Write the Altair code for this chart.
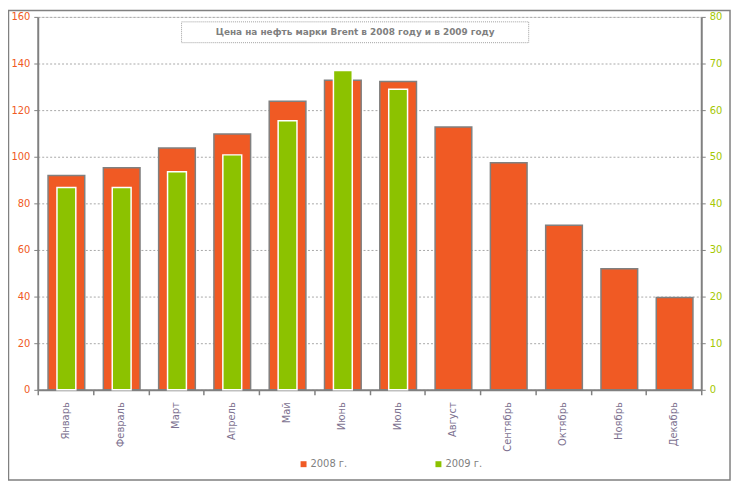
import altair as alt
import pandas as pd

months = ["Январь", "Февраль", "Март", "Апрель", "Май", "Июнь", "Июль",
          "Август", "Сентябрь", "Октябрь", "Ноябрь", "Декабрь"]
price_2008 = [92, 95.3, 103.8, 109.8, 123.8, 132.8, 132.3, 112.8, 97.4, 70.6, 51.9, 39.6]
price_2009 = [43.4, 43.4, 46.8, 50.4, 57.7, 68.5, 64.5]
series = ["2008 г.", "2009 г."]
title_text = "Цена на нефть марки Brent в 2008  году и в 2009 году"

ORANGE = "#f05a24"
GREEN = "#8cc200"
GREY = "#808080"
FONT = "DejaVu Sans"

df08 = pd.DataFrame({"Месяц": months, "Цена": price_2008, "Год": series[0]})
df09 = pd.DataFrame({"Месяц": months[:len(price_2009)], "Цена": price_2009, "Год": series[1]})

W, H = 669, 376

x_scale = alt.Scale(domain=months, paddingInner=0, paddingOuter=0)

x_enc = alt.X("Месяц:N", sort=months, scale=x_scale,
              axis=alt.Axis(title=None, labelAngle=270, labelColor="#7d7290",
                            labelFontSize=10, labelFont=FONT, tickBand="extent",
                            domainColor=GREY, domainWidth=2, tickColor=GREY,
                            tickSize=5, tickWidth=1.5, labelPadding=7,
                            labelBaseline="middle", labelAlign="right"))

color_enc = alt.Color("Год:N", scale=alt.Scale(domain=series, range=[ORANGE, GREEN]),
                      legend=alt.Legend(title=None, orient="none", legendX=263, legendY=446,
                                        direction="horizontal", symbolType="square",
                                        symbolSize=36, symbolStrokeWidth=0,
                                        labelColor=GREY, labelFontSize=10, labelFont=FONT,
                                        columnPadding=86, labelOffset=2))

bars08 = alt.Chart(df08).mark_bar(size=37, stroke=GREY, strokeWidth=1.5, xOffset=1).encode(
    x=x_enc,
    y=alt.Y("Цена:Q", scale=alt.Scale(domain=[0, 160], nice=False),
            axis=alt.Axis(title=None, orient="left", values=list(range(0, 161, 20)),
                          labelColor=ORANGE, labelFontSize=10, labelFont=FONT,
                          domainColor=GREY, domainWidth=2, tickColor=GREY, tickSize=4,
                          grid=True, gridColor="#a8a8a8", gridDash=[2, 2], gridWidth=1,
                          labelPadding=4)),
    color=color_enc,
)

bars09 = alt.Chart(df09).mark_bar(size=19, stroke="white", strokeWidth=1.5, xOffset=1).encode(
    x=alt.X("Месяц:N", sort=months, scale=x_scale),
    y=alt.Y("Цена:Q", scale=alt.Scale(domain=[0, 80], nice=False),
            axis=alt.Axis(title=None, orient="right", values=list(range(0, 81, 10)),
                          labelColor="#a4c800", labelFontSize=10, labelFont=FONT,
                          domainColor=GREY, domainWidth=2, tickColor=GREY, tickSize=4,
                          grid=False, labelPadding=4)),
    color=color_enc,
)

title_box = alt.Chart(pd.DataFrame({"t": [title_text]})).mark_rect(
    fill="white", stroke="#a0a0a0", strokeDash=[1, 1], strokeWidth=1
).encode(x=alt.value(145), x2=alt.value(495), y=alt.value(5), y2=alt.value(26))

title_lbl = alt.Chart(pd.DataFrame({"t": [title_text]})).mark_text(
    font=FONT, fontSize=9, fontWeight="bold", color="#7f7f7f", align="center", baseline="middle"
).encode(x=alt.value(320), y=alt.value(15.5), text="t:N")

border = alt.Chart(pd.DataFrame({"t": [0]})).mark_rect(
    fill=None, stroke=GREY, strokeWidth=1.5, filled=False
).encode(x=alt.value(-29.5), x2=alt.value(698), y=alt.value(-6.5), y2=alt.value(467))

chart = alt.layer(border, bars08, bars09, title_box, title_lbl).resolve_scale(
    y="independent"
).properties(
    width=W, height=H,
    autosize=alt.AutoSizeParams(type="none"),
    padding={"left": 30, "top": 7, "right": 31, "bottom": 93},
).configure_view(stroke=None).configure(background="white")

chart.save("out.html", embed_options={"renderer": "svg", "actions": False})
